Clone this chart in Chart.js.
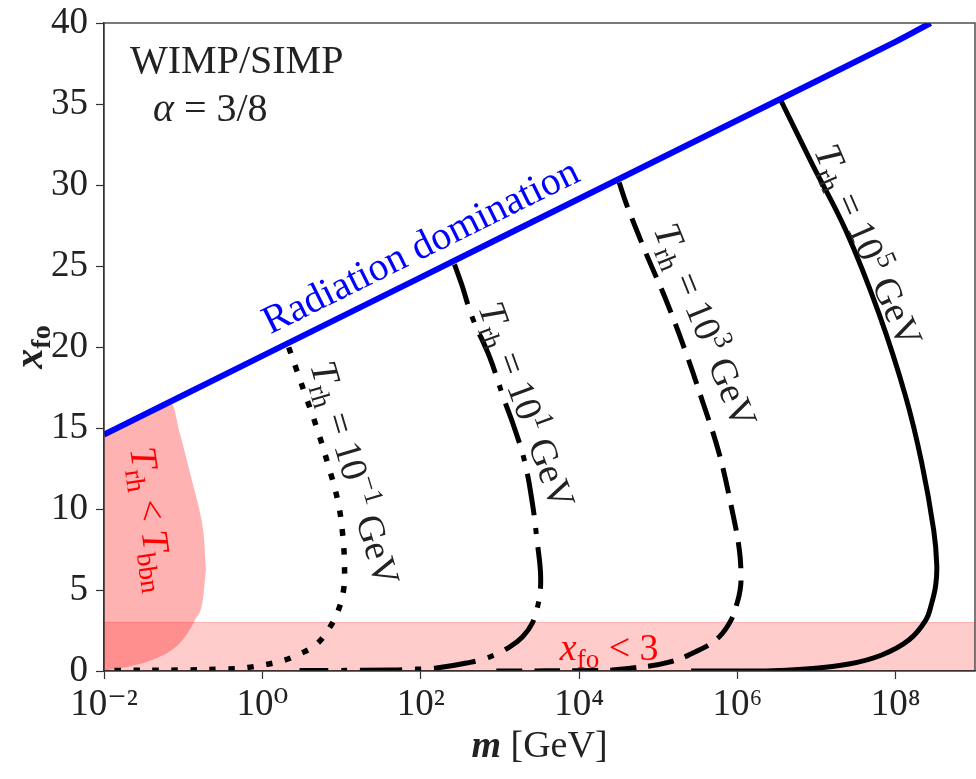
<!DOCTYPE html>
<html>
<head>
  <title>Freeze-out temperature vs mass</title>
  <style>
    html, body { margin: 0; padding: 0; background: #fff; }
    #wrap { width: 976px; height: 779px; }
  </style>
</head>
<body>
  <div id="wrap"><canvas id="chart" width="976" height="779"></canvas></div>

  <script src="https://cdn.jsdelivr.net/npm/chart.js"></script>
  <script>
    const SERIF = '"Liberation Serif", "DejaVu Serif", serif';

    // axis ticks
    const massTicks = [1e-2, 1e0, 1e2, 1e4, 1e6, 1e8];
    const massTickLabels = ['10⁻²', '10⁰', '10²', '10⁴', '10⁶', '10⁸'];

    // radiation domination line
    const radMass = [1e-2, 1e0, 1e2, 1e4, 1e6, 1e8, 2.75e8];
    const radXfo = [14.6, 19.45, 24.3, 29.15, 34.0, 38.85, 40.0];

    // T_rh = 10^-1 GeV (dotted)
    const trh1Mass = [2.15, 2.72, 3.43, 4.85, 6.68, 8.93, 10.3, 10.9, 10.6, 8.93, 6.87, 4.85, 2.96, 1.76, 1.01, 0.566, 0.317, 0.091, 0.01];
    const trh1Xfo = [19.98, 18.56, 17.14, 15.04, 12.82, 10.54, 8.51, 6.41, 4.99, 3.64, 2.59, 1.66, 1.05, 0.62, 0.37, 0.18, 0.12, 0.06, 0.03];

    // T_rh = 10^1 GeV (dash-dot)
    const trh2Mass = [267, 327, 450, 738, 1140, 1524, 2037, 2570, 2972, 3243, 3243, 3062, 2570, 1923, 1318, 738, 378, 158, 88.5, 44, 2.95];
    const trh2Xfo = [25.1, 23.9, 21.8, 19.4, 16.7, 15.0, 13.0, 10.36, 7.89, 6.23, 4.99, 4.19, 2.96, 2.10, 1.48, 0.86, 0.49, 0.18, 0.12, 0.06, 0.03];

    // T_rh = 10^3 GeV (dashed)
    const trh3Mass = [3.21e4, 3.94e4, 7.03e4, 1.26e5, 2.25e5, 3.58e5, 5.86e5, 8.55e5, 1.05e6, 1.11e6, 1.08e6, 9.89e5, 8.30e5, 5.86e5, 3.28e5, 1.37e5, 4.69e4, 1.80e4, 850];
    const trh3Xfo = [30.15, 28.85, 25.77, 22.87, 19.61, 16.71, 13.44, 9.93, 7.58, 5.92, 4.99, 4.19, 3.14, 2.10, 1.29, 0.55, 0.18, 0.03, 0.0];

    // T_rh = 10^5 GeV (solid)
    const trh4Mass = [3.55e6, 8.73e6, 2.34e7, 6.11e7, 1.34e8, 2.13e8, 3.01e8, 3.29e8, 3.19e8, 2.84e8, 2.39e8, 1.46e8, 6.65e7, 2.55e7, 7.33e6, 2.29e6, 2.60e5];
    const trh4Xfo = [35.2, 31.32, 27.19, 22.07, 16.89, 12.82, 8.69, 6.54, 5.30, 4.19, 3.14, 1.91, 0.99, 0.43, 0.12, 0.0, 0.0];

    // T_rh < T_bbn region, upper and lower edge
    const bbnUpperMass = [0.01, 0.0721, 0.0908, 0.1114, 0.1365, 0.1626, 0.1824, 0.194];
    const bbnUpperXfo = [14.6, 16.45, 14.67, 13.0, 11.3, 9.8, 8.3, 6.3];
    const bbnLowerMass = [0.01, 0.0195, 0.0466, 0.0908, 0.1406, 0.177, 0.194];
    const bbnLowerXfo = [0.03, 0.25, 0.80, 1.73, 3.14, 4.38, 6.3];

    // x_fo < 3 band
    const bandMass = [1e-2, 1e9];
    const bandXfo = [3, 3];

    const pts = (xs, ys) => xs.map((x, i) => ({x: x, y: ys[i]}));

    function curve(xs, ys, color, width, dash, order) {
      return {
        data: pts(xs, ys), showLine: true, borderColor: color, borderWidth: width,
        borderDash: dash, borderCapStyle: 'butt', tension: 0.4, pointRadius: 0,
        pointHoverRadius: 0, fill: false, clip: 0, order: order
      };
    }

    // draws a run of text pieces (italic, sub/superscripts) in one go
    function drawRich(ctx, runs, cx, cy, angle, color, centered) {
      ctx.save();
      ctx.translate(cx, cy);
      ctx.rotate(angle * Math.PI / 180);
      ctx.fillStyle = color;
      ctx.textAlign = 'left';
      ctx.textBaseline = 'alphabetic';
      let total = 0;
      runs.forEach(r => { ctx.font = r.f; r.w = ctx.measureText(r.t).width; total += r.w; });
      let xx = centered ? -total / 2 : 0;
      const base = centered ? 12 : 0;
      runs.forEach(r => {
        ctx.font = r.f;
        ctx.fillText(r.t, xx, base + (r.dy || 0));
        xx += r.w;
      });
      ctx.restore();
    }

    const big = s => `${s}px ${SERIF}`;
    const ital = s => `italic ${s}px ${SERIF}`;

    function trhLabel(exp) {
      return [
        {t: 'T', f: ital(38)},
        {t: 'rh', f: big(27), dy: 8},
        {t: ' = 10', f: big(38)},
        {t: exp, f: big(27), dy: -15},
        {t: ' GeV', f: big(38)}
      ];
    }

    const annotations = {
      id: 'annotations',
      afterDatasetsDraw(chart) {
        const {ctx, chartArea: a, scales: {x, y}} = chart;
        const at = (m, v) => [x.getPixelForValue(m), y.getPixelForValue(v)];

        // frame
        ctx.save();
        ctx.strokeStyle = '#333';
        ctx.lineWidth = 1.3;
        ctx.strokeRect(a.left, a.top, a.right - a.left, a.bottom - a.top);
        ctx.restore();

        let p = at(0.0213, 36.93);
        drawRich(ctx, [{t: 'WIMP/SIMP', f: big(40)}], p[0], p[1], 0, '#222', false);
        p = at(0.0415, 33.97);
        drawRich(ctx, [{t: 'α', f: ital(40)}, {t: ' = 3/8', f: big(40)}], p[0], p[1], 0, '#222', false);

        const p0 = at(radMass[0], radXfo[0]);
        const p1 = at(radMass[5], radXfo[5]);
        const slope = Math.atan2(p1[1] - p0[1], p1[0] - p0[0]) * 180 / Math.PI;
        p = at(100, 26.2);
        drawRich(ctx, [{t: 'Radiation domination', f: big(40)}], p[0], p[1], slope, '#0000ff', true);

        p = at(14.6, 12.2);
        drawRich(ctx, trhLabel('−1'), p[0], p[1], 73.5, '#222', true);
        p = at(2160, 16.4);
        drawRich(ctx, trhLabel('1'), p[0], p[1], 70, '#222', true);
        p = at(3.9e5, 21.33);
        drawRich(ctx, trhLabel('3'), p[0], p[1], 68, '#222', true);
        p = at(4.44e7, 26.26);
        drawRich(ctx, trhLabel('5'), p[0], p[1], 66.5, '#222', true);

        p = at(0.0403, 9.37);
        drawRich(ctx, [
          {t: 'T', f: ital(38)}, {t: 'rh', f: big(27), dy: 8},
          {t: ' < ', f: big(38)},
          {t: 'T', f: ital(38)}, {t: 'bbn', f: big(27), dy: 8}
        ], p[0], p[1], 82, '#ff0000', true);

        p = at(2.4e4, 1.42);
        drawRich(ctx, [
          {t: 'x', f: ital(38)}, {t: 'fo', f: big(27), dy: 8},
          {t: ' < 3', f: big(38)}
        ], p[0], p[1], 0, '#ff0000', true);

        // axis titles
        drawRich(ctx, [
          {t: 'm', f: `bold italic 38px ${SERIF}`},
          {t: ' [GeV]', f: big(38)}
        ], (a.left + a.right) / 2, 745, 0, '#222', true);
        drawRich(ctx, [
          {t: 'x', f: `bold italic 40px ${SERIF}`},
          {t: 'fo', f: `bold 28px ${SERIF}`, dy: 8}
        ], 30, (a.top + a.bottom) / 2, -90, '#222', true);
      }
    };

    new Chart(document.getElementById('chart'), {
      type: 'scatter',
      data: {
        datasets: [
          curve(radMass, radXfo, '#0000ff', 6, [], 0),
          curve(trh1Mass, trh1Xfo, '#000', 5.5, [6.5, 12.5], 1),
          curve(trh2Mass, trh2Xfo, '#000', 5, [42, 13, 6, 13], 1),
          curve(trh3Mass, trh3Xfo, '#000', 5, [26, 12], 1),
          curve(trh4Mass, trh4Xfo, '#000', 5, [], 1),
          {
            data: pts(bbnUpperMass, bbnUpperXfo), showLine: true, cubicInterpolationMode: 'monotone',
            borderColor: 'rgba(0,0,0,0)', backgroundColor: 'rgba(255,0,0,0.3)',
            pointRadius: 0, fill: '+1', clip: 0, order: 5
          },
          {
            data: pts(bbnLowerMass, bbnLowerXfo), showLine: true, cubicInterpolationMode: 'monotone',
            borderColor: 'rgba(0,0,0,0)', pointRadius: 0, fill: false, clip: 0, order: 5
          },
          {
            data: pts(bandMass, bandXfo), showLine: true, borderWidth: 1,
            borderColor: 'rgba(255,0,0,0.25)', backgroundColor: 'rgba(255,0,0,0.2)',
            pointRadius: 0, fill: 'origin', clip: 0, order: 6
          }
        ]
      },
      options: {
        responsive: false,
        animation: false,
        layout: { padding: { top: 23, right: 1, left: 0, bottom: 0 } },
        plugins: { legend: { display: false }, tooltip: { enabled: false } },
        scales: {
          x: {
            type: 'logarithmic', min: 1e-2, max: 1e9,
            afterBuildTicks: s => { s.ticks = massTicks.map(v => ({value: v})); },
            afterFit: s => { s.height = 108; s.paddingLeft = 0; s.paddingRight = 0; },
            ticks: {
              autoSkip: false, maxRotation: 0, padding: 4, color: '#222',
              font: { family: SERIF, size: 37 },
              callback: (v, i) => massTickLabels[i]
            },
            grid: { drawOnChartArea: false, tickLength: 8, color: '#333', tickWidth: 1.2 },
            border: { color: '#333', width: 1.3 }
          },
          y: {
            min: 0, max: 40,
            afterFit: s => { s.width = 104; s.paddingTop = 0; s.paddingBottom = 0; },
            ticks: { stepSize: 5, padding: 8, color: '#222', font: { family: SERIF, size: 37 } },
            grid: { drawOnChartArea: false, tickLength: 8, color: '#333', tickWidth: 1.2 },
            border: { color: '#333', width: 1.3 }
          }
        }
      },
      plugins: [annotations]
    });
  </script>
</body>
</html>
